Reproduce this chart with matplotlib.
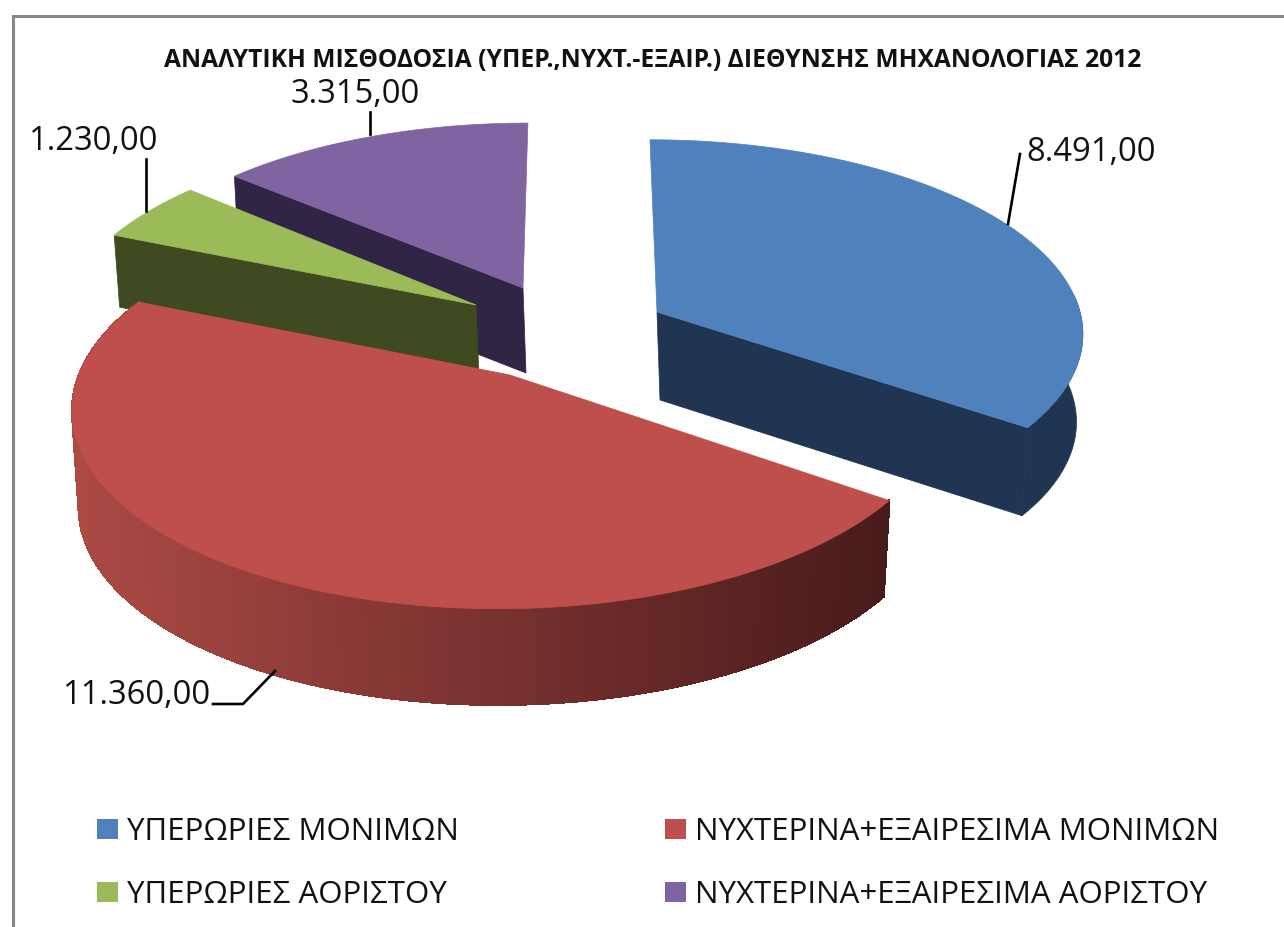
import numpy as np
import matplotlib
matplotlib.use("Agg")
import matplotlib.pyplot as plt
from matplotlib.patches import Rectangle
from matplotlib.collections import PolyCollection
from matplotlib.colors import to_rgb

# ---- data ----
categories = ["ΥΠΕΡΩΡΙΕΣ ΜΟΝΙΜΩΝ", "ΝΥΧΤΕΡΙΝΑ+ΕΞΑΙΡΕΣΙΜΑ ΜΟΝΙΜΩΝ",
              "ΥΠΕΡΩΡΙΕΣ ΑΟΡΙΣΤΟΥ", "ΝΥΧΤΕΡΙΝΑ+ΕΞΑΙΡΕΣΙΜΑ ΑΟΡΙΣΤΟΥ"]
values = [8491.0, 11360.0, 1230.0, 3315.0]
title = "ΑΝΑΛΥΤΙΚΗ ΜΙΣΘΟΔΟΣΙΑ (ΥΠΕΡ.,ΝΥΧΤ.-ΕΞΑΙΡ.) ΔΙΕΘΥΝΣΗΣ ΜΗΧΑΝΟΛΟΓΙΑΣ 2012"

# ---- style ----
plt.rcParams['font.family'] = ['Open Sans', 'DejaVu Sans']
top_colors = ["#4F81BD", "#BE4F4C", "#9BBB59", "#8064A2"]
wall_colors = ["#1F3552", None, "#3F4A20", "#302545"]
red_wall_left, red_wall_right = "#AC4A44", "#481B1B"
apex = [(657, 312), (510, 375), (476, 305), (523, 288)]
radius = [423, 431, 412, 412]
depth = [189, 198, 186, 181]
height = [88, 96, 72, 85]
persp = [0.0975, 0.153, 0.0975, 0.0975]
VX = 578
LEAN = 0.015

fig = plt.figure(figsize=(12.84, 9.27), dpi=100, facecolor="white")
ax = fig.add_axes([0, 0, 1, 1])
ax.set_xlim(0, 1284)
ax.set_ylim(927, 0)
ax.axis("off")

# frame
ax.plot([13, 13, 1284], [927, 16, 16], color="#888888", lw=2.2, solid_joinstyle="miter", zorder=1)

fractions = np.array(values) / sum(values)
edges = np.concatenate([[0], np.cumsum(fractions)]) * 2 * np.pi


def project(i, th, drop=0.0):
    r, rs = radius[i], depth[i]
    ax0, ay0 = apex[i]
    u, v = np.sin(th), np.cos(th)
    p = 1 / (1 + persp[i] * v)
    x = ax0 + r * u * p + (ax0 - VX) * (p - 1)
    y = ay0 - rs * v * p
    if drop:
        x = x - LEAN * (x - ax0)
        y = y + drop
    return np.array(x), np.array(y)


def arc(i, n=240):
    th = np.linspace(edges[i], edges[i + 1], n)
    return th, *project(i, th)


def draw_cut(i, th, z):
    """flat wall along the radial cut at angle th"""
    x1, y1 = project(i, np.array(th))
    x2, y2 = project(i, np.array(th), height[i])
    ax0, ay0 = apex[i]
    ax.fill([ax0, x1, x2, ax0 + 3], [ay0, y1, y2, ay0 + height[i]],
            color=wall_colors[i], lw=0.5, zorder=z)


def draw_top(i, z):
    th, x, y = arc(i)
    ax.fill(np.r_[apex[i][0], x], np.r_[apex[i][1], y], color=top_colors[i], lw=0.5, zorder=z)


# purple, then green, then blue, then red
draw_cut(3, edges[3], 3)
draw_top(3, 4)
draw_cut(2, edges[2], 5)
draw_top(2, 6)

# blue: radial cut + outer wall
draw_cut(0, edges[1], 7)
th = np.linspace(np.radians(85), edges[1], 80)
xt, yt = project(0, th)
xb, yb = project(0, th, height[0])
ax.fill(np.r_[xt, xb[::-1]], np.r_[yt, yb[::-1]], color=wall_colors[0], lw=0.5, zorder=7)
draw_top(0, 8)

# red: shaded outer wall
th = np.linspace(edges[1], edges[2], 400)
xt, yt = project(1, th)
xb, yb = project(1, th, height[1])
quads = [[(xt[j], yt[j]), (xt[j + 1], yt[j + 1]), (xb[j + 1], yb[j + 1]), (xb[j], yb[j])]
         for j in range(len(th) - 1)]
c0, c1 = np.array(to_rgb(red_wall_right)), np.array(to_rgb(red_wall_left))
tx = (xt[:-1] - xt.min()) / (xt.max() - xt.min())
cols = [c1 + (c0 - c1) * t for t in tx]
ax.add_collection(PolyCollection(quads, facecolors=cols, edgecolors=cols, linewidths=1.0,
                                 antialiaseds=False, zorder=9))
draw_top(1, 10)


def fmt(v):
    return f"{v:,.2f}".replace(",", "#").replace(".", ",").replace("#", ".")


# value labels with leader lines
text_kw = dict(fontsize=23.6, color="#111111", zorder=12, va="center")
ax.text(1026, 152, fmt(values[0]), ha="left", **text_kw)
ax.plot([1020, 1008], [154, 224], color="black", lw=1.9, zorder=11)
ax.text(63, 696, fmt(values[1]), ha="left", **text_kw)
ax.plot([213, 243, 275], [704, 704, 671], color="black", lw=1.9, zorder=11)
ax.text(29, 141, fmt(values[2]), ha="left", **text_kw)
ax.plot([146, 146], [159, 211], color="black", lw=1.9, zorder=11)
ax.text(291, 94, fmt(values[3]), ha="left", **text_kw)
ax.plot([370, 370], [112, 134], color="black", lw=1.9, zorder=11)

ax.text(653, 60, title, ha="center", va="center", fontsize=17.7, fontweight="bold",
        color="#111111", zorder=12)

# legend
slots = [(97, 829), (665, 829), (97, 892), (665, 892)]
for (lx, ly), name, col in zip(slots, categories, top_colors):
    ax.add_patch(Rectangle((lx, ly - 10), 21, 20, color=col, lw=0, zorder=12))
    ax.text(lx + 30, ly + 3, name, ha="left", va="center", fontsize=22.5, color="#111111", zorder=12)

fig.savefig("out.png", dpi=100, facecolor="white")
